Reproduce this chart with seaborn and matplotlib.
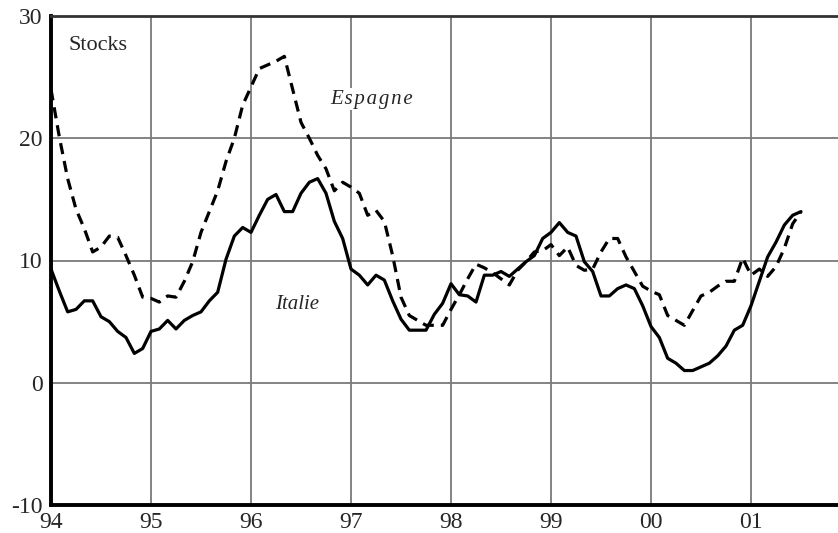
import numpy as np
import pandas as pd
import matplotlib
matplotlib.use("Agg")
import matplotlib.pyplot as plt
import seaborn as sns

# monthly values, Jan 1994 .. Jul 2001
italie = [9.3, 7.5, 5.8, 6.0, 6.7, 6.7, 5.4, 5.0, 4.2, 3.7, 2.4, 2.8,
          4.2, 4.4, 5.1, 4.4, 5.1, 5.5, 5.8, 6.7, 7.4, 10.1, 12.0, 12.7,
          12.3, 13.7, 15.0, 15.4, 14.0, 14.0, 15.5, 16.4, 16.7, 15.5, 13.2, 11.8,
          9.3, 8.8, 8.0, 8.8, 8.4, 6.7, 5.2, 4.3, 4.3, 4.3, 5.6, 6.5,
          8.1, 7.2, 7.1, 6.6, 8.8, 8.8, 9.1, 8.7, 9.3, 9.9, 10.4, 11.8,
          12.3, 13.1, 12.3, 12.0, 9.9, 9.1, 7.1, 7.1, 7.7, 8.0, 7.7, 6.3,
          4.6, 3.7, 2.0, 1.6, 1.0, 1.0, 1.3, 1.6, 2.2, 3.0, 4.3, 4.7,
          6.3, 8.3, 10.3, 11.5, 12.9, 13.7, 14.0]
espagne = [24.0, 20.1, 16.7, 14.2, 12.6, 10.7, 11.1, 12.0, 11.9, 10.4, 8.8, 7.0,
           6.9, 6.6, 7.1, 7.0, 8.3, 9.9, 12.3, 14.0, 15.7, 18.1, 20.0, 22.7,
           24.2, 25.7, 26.0, 26.3, 26.7, 24.0, 21.3, 20.0, 18.6, 17.5, 15.7, 16.4,
           16.0, 15.5, 13.7, 14.1, 13.2, 10.4, 7.0, 5.5, 5.1, 4.7, 4.7, 4.7,
           6.0, 7.2, 8.5, 9.7, 9.4, 9.0, 8.5, 8.0, 9.2, 9.9, 10.7, 10.8,
           11.3, 10.4, 11.1, 9.6, 9.2, 9.3, 10.7, 11.8, 11.8, 10.3, 9.1, 7.9,
           7.5, 7.2, 5.5, 5.1, 4.7, 5.9, 7.1, 7.4, 7.9, 8.3, 8.3, 10.2,
           8.8, 9.3, 8.7, 9.5, 11.0, 13.0, 14.0]
start_year = 1994
year_ticks = [1994, 1995, 1996, 1997, 1998, 1999, 2000, 2001]
year_labels = ["94", "95", "96", "97", "98", "99", "00", "01"]
y_ticks = [-10, 0, 10, 20, 30]

t = start_year + np.arange(len(italie)) / 12
df = pd.DataFrame({"t": np.concatenate([t, t]),
                   "val": italie + espagne,
                   "pays": ["Italie"] * len(italie) + ["Espagne"] * len(espagne)})

sns.set_style("white")
plt.rcParams['font.family'] = ['Liberation Serif', 'DejaVu Serif']
plt.rcParams['axes.unicode_minus'] = False

fig = plt.figure(figsize=(8.38, 5.33), dpi=100)
ax = fig.add_axes([51 / 838, 28 / 533, 1 - 51 / 838, (505 - 16) / 533])

sns.lineplot(data=df, x="t", y="val", hue="pays", style="pays",
             palette={"Italie": "black", "Espagne": "black"},
             dashes={"Italie": "", "Espagne": (3.5, 2.2)},
             linewidth=2.3, legend=False, ax=ax, zorder=3)

ax.set_xlim(1994, 2001.87)
ax.set_ylim(-10, 30)
ax.set_xticks(year_ticks)
ax.set_xticklabels(year_labels)
ax.set_yticks(y_ticks)
ax.set_xlabel("")
ax.set_ylabel("")
ax.grid(True, color="#7a7a7a", linewidth=1.3)
ax.set_axisbelow(True)
ax.tick_params(axis="both", direction="in", length=10, width=2.2, color="black",
               labelsize=17, pad=6)
ax.tick_params(axis="x", length=0, pad=5)

ax.spines["left"].set_linewidth(2.8)
ax.spines["bottom"].set_linewidth(2.8)
ax.spines["left"].set_color("black")
ax.spines["bottom"].set_color("black")
ax.spines["top"].set_linewidth(2)
ax.spines["top"].set_color("#333333")
ax.spines["right"].set_visible(False)

ax.text(1994.17, 27.6, "Stocks", fontsize=16, ha="left", va="center")
ax.text(1996.79, 23.2, "\u200a".join("Espagne"), fontsize=15, style="italic",
        ha="left", va="center",
        bbox=dict(facecolor="white", edgecolor="none", pad=1))
ax.text(1996.24, 6.4, "Italie", fontsize=15, style="italic",
        ha="left", va="center")

fig.savefig("out.png", dpi=100)
